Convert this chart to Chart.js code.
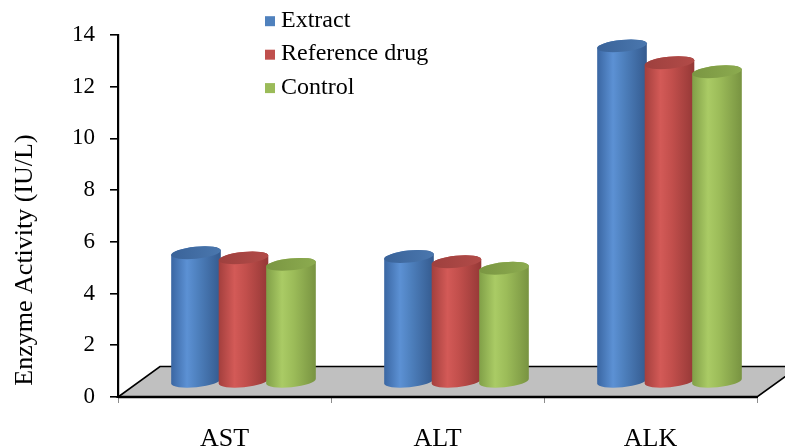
<!DOCTYPE html>
<html>
<head>
<meta charset="utf-8">
<script src="https://cdn.jsdelivr.net/npm/chart.js@4.4.1/dist/chart.umd.min.js"></script>
<style>
  html, body { margin: 0; padding: 0; background: #ffffff; }
  #wrap { width: 785px; height: 448px; }
</style>
</head>
<body>
<div id="wrap"><canvas id="chart" width="785" height="448"></canvas></div>
<script>
// Enzyme activity per test, in IU/L
const categories = ['AST', 'ALT', 'ALK'];
const extract = [5.0, 4.85, 13.0];
const referenceDrug = [4.8, 4.65, 12.35];
const control = [4.55, 4.4, 12.0];
const seriesNames = ['Extract', 'Reference drug', 'Control'];
const yTicks = [0, 2, 4, 6, 8, 10, 12, 14];
const yTitle = 'Enzyme Activity (IU/L)';

// Shading for each cylinder series
const palettes = [
  { base: '#4F81BD', edgeL: '#3A66A2', light: '#5C91D4', mid: '#4D7FBC', edgeR: '#345A8E', topL: '#3A6399', topR: '#4A77AE' },
  { base: '#C0504D', edgeL: '#A33F3D', light: '#D35A57', mid: '#C24F4C', edgeR: '#943836', topL: '#9E403E', topR: '#B24B48' },
  { base: '#9BBB59', edgeL: '#809F47', light: '#AACB65', mid: '#9CBC59', edgeR: '#789341', topL: '#7A9642', topR: '#8CAB4F' }
];

// Floor depth and where the cylinders stand on it
const DEPTH_X = 42, DEPTH_Y = 30.5;
const BAR_DX = 19, BAR_DY = -15;
const RY = 6, TILT = -0.1;
const SERIF = '"Liberation Serif", "Times New Roman", serif';

function drawCylinder(ctx, cx, topY, baseY, w, pal) {
  const rx = w / 2;
  const ex = rx * Math.cos(TILT), ey = rx * Math.sin(TILT);
  const g = ctx.createLinearGradient(cx - rx, 0, cx + rx, 0);
  g.addColorStop(0, pal.edgeL);
  g.addColorStop(0.32, pal.light);
  g.addColorStop(0.55, pal.mid);
  g.addColorStop(1, pal.edgeR);
  ctx.beginPath();
  ctx.moveTo(cx + ex, topY + ey);
  ctx.lineTo(cx + ex, baseY + ey);
  ctx.ellipse(cx, baseY, rx, RY, TILT, 0, Math.PI, false);
  ctx.lineTo(cx - ex, topY - ey);
  ctx.ellipse(cx, topY, rx, RY, TILT, Math.PI, 2 * Math.PI, false);
  ctx.closePath();
  ctx.fillStyle = g;
  ctx.fill();

  const tg = ctx.createLinearGradient(cx - rx, topY, cx + rx, topY);
  tg.addColorStop(0, pal.topL);
  tg.addColorStop(1, pal.topR);
  ctx.beginPath();
  ctx.ellipse(cx, topY, rx, RY, TILT, 0, 2 * Math.PI);
  ctx.fillStyle = tg;
  ctx.fill();
}

const cylinderPlugin = {
  id: 'cylinders',
  beforeDatasetsDraw(chart) {
    const { ctx, chartArea: a } = chart;
    ctx.save();
    ctx.beginPath();
    ctx.moveTo(a.left, a.bottom);
    ctx.lineTo(a.right, a.bottom);
    ctx.lineTo(a.right + DEPTH_X, a.bottom - DEPTH_Y);
    ctx.lineTo(a.left + DEPTH_X, a.bottom - DEPTH_Y);
    ctx.closePath();
    ctx.fillStyle = '#C0C0C0';
    ctx.fill();
    ctx.lineWidth = 1.6;
    ctx.strokeStyle = '#000';
    ctx.stroke();
    ctx.beginPath();
    ctx.moveTo(a.left, a.bottom);
    ctx.lineTo(a.right, a.bottom);
    ctx.lineWidth = 2.5;
    ctx.stroke();
    ctx.restore();
  },
  afterDatasetsDraw(chart) {
    const ctx = chart.ctx;
    ctx.save();
    chart.data.datasets.forEach((ds, i) => {
      const meta = chart.getDatasetMeta(i);
      meta.data.forEach(el => {
        drawCylinder(ctx, el.x + BAR_DX, el.y + BAR_DY, el.base + BAR_DY, el.width, palettes[i]);
      });
    });
    ctx.restore();
  },
  afterDraw(chart) {
    const ctx = chart.ctx;
    ctx.save();
    // vertical axis title, centred on the floor-to-top span of the cylinders
    ctx.font = '26px ' + SERIF;
    ctx.fillStyle = '#000';
    ctx.textAlign = 'center';
    ctx.textBaseline = 'middle';
    ctx.translate(25, 260);
    ctx.rotate(-Math.PI / 2);
    ctx.fillText(yTitle, 0, 0);
    ctx.setTransform(1, 0, 0, 1, 0, 0);

    // legend
    ctx.font = '24px ' + SERIF;
    ctx.textAlign = 'left';
    const rows = [20.7, 54.2, 87.6];
    chart.data.datasets.forEach((ds, i) => {
      ctx.fillStyle = palettes[i].base;
      ctx.fillRect(265, rows[i] - 4.5, 10, 10);
      ctx.fillStyle = '#000';
      ctx.fillText(ds.label, 281, rows[i]);
    });
    ctx.restore();
  }
};

const datasets = [extract, referenceDrug, control].map((vals, i) => ({
  label: seriesNames[i],
  data: vals,
  backgroundColor: 'rgba(0,0,0,0)',
  borderWidth: 0,
  categoryPercentage: 0.669,
  barPercentage: 1.05
}));

new Chart(document.getElementById('chart'), {
  type: 'bar',
  data: { labels: categories, datasets },
  plugins: [cylinderPlugin],
  options: {
    responsive: false,
    animation: false,
    devicePixelRatio: 1,
    layout: { padding: { top: 35, right: 28, left: 0, bottom: 0 } },
    plugins: { legend: { display: false }, tooltip: { enabled: false } },
    scales: {
      x: {
        offset: true,
        afterFit(s) { s.height = 51; },
        grid: { offset: true, drawOnChartArea: false, drawTicks: true, tickLength: 6, color: '#8c8c8c', lineWidth: 1 },
        border: { display: true, color: '#000', width: 2 },
        ticks: { color: '#000', font: { family: SERIF, size: 26 }, padding: 21 }
      },
      y: {
        min: 0,
        max: 14,
        afterBuildTicks(s) { s.ticks = yTicks.map(v => ({ value: v })); },
        afterFit(s) { s.width = 118; },
        grid: { drawOnChartArea: false, drawTicks: true, tickLength: 8, color: '#000', lineWidth: 1.6 },
        border: { display: true, color: '#000', width: 2.2 },
        ticks: { color: '#000', font: { family: SERIF, size: 23 }, padding: 15 }
      }
    }
  }
});
</script>
</body>
</html>
